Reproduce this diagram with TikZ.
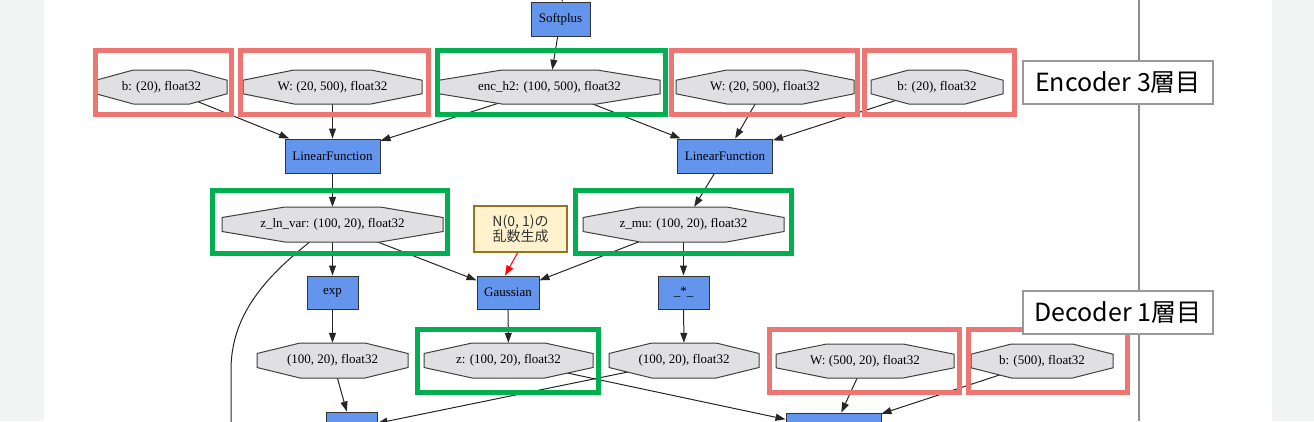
\documentclass[tikz,border=0pt]{standalone}
\usepackage{fontspec}
\setmainfont{Liberation Serif}
\newfontfamily\jpfont{Noto Sans CJK JP}
\usetikzlibrary{arrows.meta,calc,backgrounds}
\definecolor{fnblue}{RGB}{100,149,237}
\definecolor{varfill}{RGB}{224,224,226}
\definecolor{mkred}{RGB}{238,118,114}
\definecolor{mkgreen}{RGB}{0,176,80}
\definecolor{noteyel}{RGB}{255,242,204}
\definecolor{notebrd}{RGB}{150,115,30}
\definecolor{pagegray}{RGB}{243,245,245}
\tikzset{
  fn/.style={draw=black!80, fill=fnblue, line width=1pt, inner sep=0pt, minimum height=33pt, font=\fontsize{13}{15}\selectfont},
  vartxt/.style={inner sep=0pt, font=\fontsize{13}{15}\selectfont},
  varline/.style={draw=black!75, fill=varfill, line width=1pt},
  edge/.style={black!85, line width=1pt, -{Triangle[length=10pt,width=7pt]}},
  redbox/.style={draw=mkred, line width=5pt},
  greenbox/.style={draw=mkgreen, line width=5pt},
  layerlabel/.style={draw=black!40, fill=white, line width=1.2pt, minimum width=190pt, minimum height=43pt, inner sep=0pt, font=\jpfont\fontsize{25}{30}\selectfont},
}
% octagon variable node: name, centre, width, height, text
\newcommand{\varnode}[5]{%
  \draw[varline] (#2) ++({-0.215*#3},{-0.5*#4}) -- ++({0.43*#3},0) -- ++({0.285*#3},{0.3*#4}) -- ++(0,{0.4*#4})
    -- ++({-0.285*#3},{0.3*#4}) -- ++({-0.43*#3},0) -- ++({-0.285*#3},{-0.3*#4}) -- ++(0,{-0.4*#4}) -- cycle;
  \node[vartxt, minimum width=#3pt, minimum height=#4pt] (#1) at (#2) {#5};
}
\begin{document}
\begin{tikzpicture}[x=1pt,y=-1pt]
\useasboundingbox (0,0) rectangle (1314,421);
\clip (0,0) rectangle (1314,421);
\fill[pagegray] (0,0) rectangle (44,421);
\fill[pagegray] (1272,0) rectangle (1314,421);
\draw[black!45, line width=2pt] (1138.5,0) -- (1138.5,421);

\node[fn, minimum width=59pt, minimum height=34pt] (sp) at (560.5,19) {Softplus};
\varnode{bL}{161.5,87}{131}{34}{b: (20), float32}
\varnode{WL}{332.5,87}{179}{34}{W: (20, 500), float32}
\varnode{enc}{549.5,87}{221}{34}{enc\_h2: (100, 500), float32}
\varnode{WR}{765,87}{178}{34}{W: (20, 500), float32}
\varnode{bR}{937,87}{132}{34}{b: (20), float32}
\node[fn, minimum width=95pt, minimum height=34pt] (lfL) at (332.5,156) {LinearFunction};
\node[fn, minimum width=95pt, minimum height=34pt] (lfR) at (725,156) {LinearFunction};
\varnode{zlv}{332.5,224.5}{221}{35}{z\_ln\_var: (100, 20), float32}
\varnode{zmu}{683.5,224.5}{201}{35}{z\_mu: (100, 20), float32}
\node[draw=notebrd, fill=noteyel, line width=2pt, minimum width=93pt, minimum height=46pt, inner sep=0pt,
  align=center, text=black!80, font=\jpfont\fontsize{14}{15}\selectfont] (note) at (520.5,229) {N(0, 1)の\\乱数生成};
\node[fn, minimum width=51pt] (exp) at (332.5,292.5) {exp};
\node[fn, minimum width=62pt] (gau) at (508,292.5) {Gaussian};
\node[fn, minimum width=51pt] (mul) at (683.5,292.5) {\_*\_};
\varnode{vL}{332.5,360.5}{151}{35}{(100, 20), float32}
\varnode{z}{508.5,360.5}{169}{35}{z: (100, 20), float32}
\varnode{vR}{684,360.5}{150}{35}{(100, 20), float32}
\varnode{Wd}{865,361}{178}{34}{W: (500, 20), float32}
\varnode{bd}{1042,361}{142}{34}{b: (500), float32}
\node[fn, minimum width=51pt] (addL) at (351.5,428.5) {};
\node[fn, minimum width=95pt] (addR) at (833.5,429.5) {};

\coordinate (spin) at (566,-40);
\coordinate (zlvout) at (231,440);
\begin{pgfonlayer}{background}
\draw[black!85, line width=1pt] (spin) -- (sp);
\foreach \a/\b in {sp/enc, bL/lfL, WL/lfL, enc/lfL, enc/lfR, WR/lfR, bR/lfR, lfL/zlv, lfR/zmu,
  zlv/exp, zlv/gau, zmu/gau, zmu/mul, exp/vL, gau/z, mul/vR, vL/addL, vR/addL, z/addR, Wd/addR, bd/addR}
  \draw[edge] (\a.center) -- (\b);
\draw[edge, red] ($(note.south)+(-3,0)$) -- ($(gau.north)+(-3,0)$);
\draw[black!85, line width=1pt] ($(zlv.south)+(-23,0)$) .. controls (259,282) and (231,320) .. (231,370) -- (zlvout);
\end{pgfonlayer}

\draw[redbox] (95,50.5) rectangle (231,114.5);
\draw[redbox] (240.3,50.5) rectangle (428.9,114.5);
\draw[greenbox] (437.5,50.5) rectangle (665.5,114.5);
\draw[redbox] (671.5,50.5) rectangle (857.5,114.5);
\draw[redbox] (864.5,50.5) rectangle (1014.5,114.5);
\draw[greenbox] (212.5,190.5) rectangle (447.5,253.5);
\draw[greenbox] (575.5,190.5) rectangle (791.5,253.5);
\draw[greenbox] (417.5,329.5) rectangle (598.5,392.5);
\draw[redbox] (769.5,329.5) rectangle (959.5,392.5);
\draw[redbox] (968.5,329.5) rectangle (1127.5,392.5);

\node[layerlabel] (encl) at (1118,82.5) {Encoder 3層目};
\node[layerlabel] (decl) at (1118,312.5) {Decoder 1層目};
\end{tikzpicture}
\end{document}
